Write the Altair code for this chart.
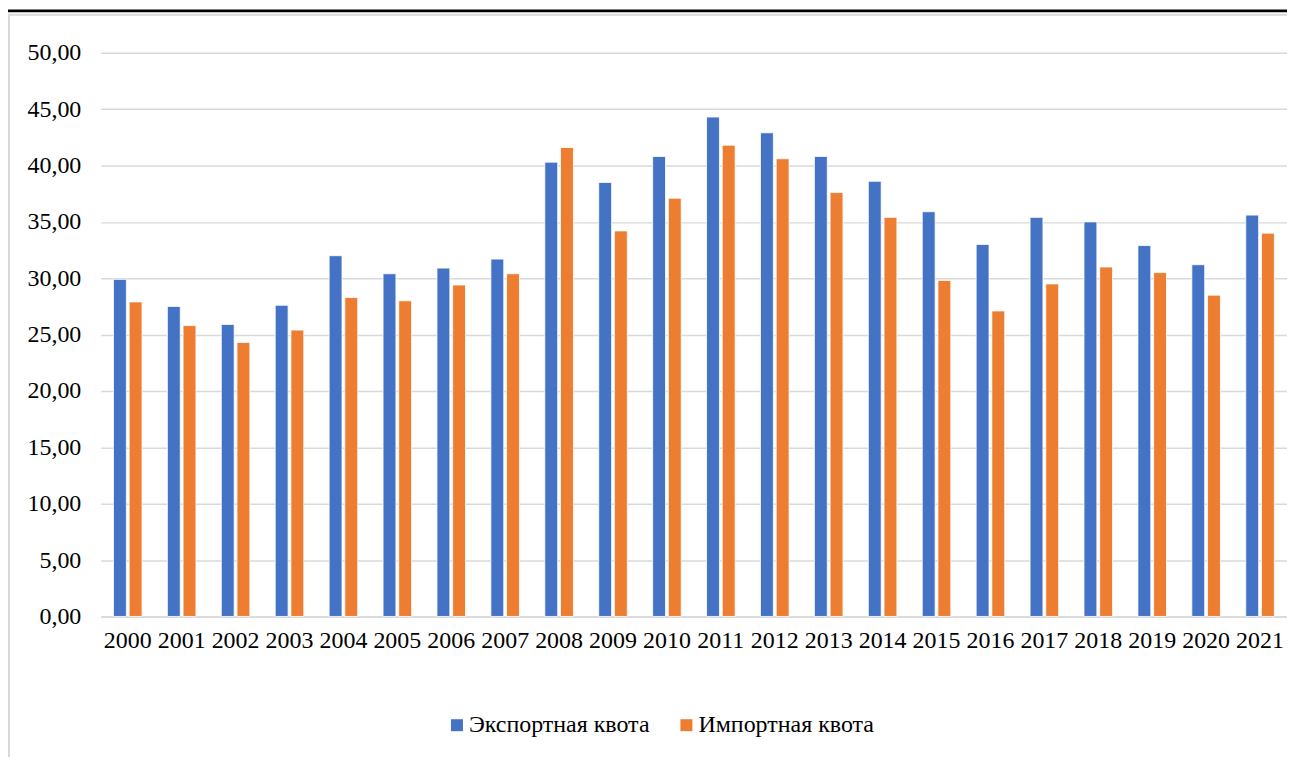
import altair as alt
import pandas as pd

years = [str(y) for y in range(2000, 2022)]
export_quota = [29.9, 27.5, 25.9, 27.6, 32.0, 30.4, 30.9, 31.7, 40.3, 38.5, 40.8,
                44.3, 42.9, 40.8, 38.6, 35.9, 33.0, 35.4, 35.0, 32.9, 31.2, 35.6]
import_quota = [27.9, 25.8, 24.3, 25.4, 28.3, 28.0, 29.4, 30.4, 41.6, 34.2, 37.1,
                41.8, 40.6, 37.6, 35.4, 29.8, 27.1, 29.5, 31.0, 30.5, 28.5, 34.0]
series = ["Экспортная квота", "Импортная квота"]
colors = ["#4472C4", "#ED7D31"]

rows = []
for i, y in enumerate(years):
    rows.append({"year": y, "series": series[0], "value": export_quota[i]})
    rows.append({"year": y, "series": series[1], "value": import_quota[i]})
df = pd.DataFrame(rows)

W, H = 1189, 565
FONT = "Times New Roman, Liberation Serif, serif"
FS = 24

bars = alt.Chart(df).mark_bar(stroke="white", strokeWidth=0.8).encode(
    x=alt.X("year:N", sort=years, title=None,
            scale=alt.Scale(paddingInner=0.47, paddingOuter=0.235),
            axis=alt.Axis(labelAngle=0, ticks=False, labelPadding=12,
                          domainColor="#D9D9D9", domainWidth=1.5,
                          labelFontSize=FS, labelFont=FONT, labelColor="black")),
    xOffset=alt.XOffset("series:N", sort=series,
                        scale=alt.Scale(paddingInner=0.18, paddingOuter=0)),
    y=alt.Y("value:Q", title=None,
            scale=alt.Scale(domain=[0, 50], nice=False),
            axis=alt.Axis(values=list(range(0, 55, 5)), ticks=False, domain=False,
                          labelExpr="replace(format(datum.value, '.2f'), '.', ',')",
                          labelPadding=20, gridColor="#D9D9D9", gridWidth=1.5,
                          labelFontSize=FS, labelFont=FONT, labelColor="black")),
    color=alt.Color("series:N", sort=series,
                    scale=alt.Scale(domain=series, range=colors),
                    legend=alt.Legend(title=None, orient="none", direction="horizontal",
                                      legendX=345, legendY=662,
                                      symbolType="square", symbolSize=144,
                                      symbolStrokeWidth=0, columnPadding=24,
                                      labelFontSize=FS, labelFont=FONT, labelLimit=0,
                                      labelColor="black", labelOffset=0)),
)

frame = alt.Chart(pd.DataFrame({"k": [0]})).mark_rect(
    fill=None, stroke="#D9D9D9", strokeWidth=2
).encode(x=alt.value(-92), x2=alt.value(1230), y=alt.value(-38), y2=alt.value(760))

topline = alt.Chart(pd.DataFrame({"k": [0]})).mark_rule(
    color="black", strokeWidth=3
).encode(x=alt.value(-101), x2=alt.value(1230), y=alt.value(-42))

chart = alt.layer(frame, topline, bars).properties(
    width=W, height=H,
    autosize=alt.AutoSizeParams(type="none"),
    padding={"left": 93, "top": 44, "right": 0, "bottom": 140},
).configure(background="white", font=FONT).configure_view(stroke=None)

chart.save("out.html", embed_options={"renderer": "svg", "actions": False})
